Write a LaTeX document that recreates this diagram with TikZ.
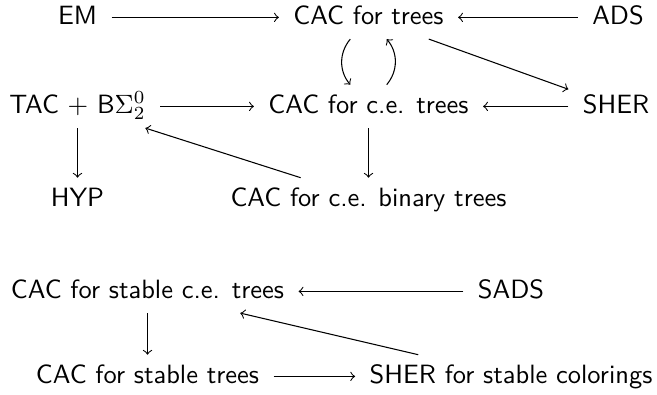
\documentclass[tikz,border=0pt]{standalone}
\usepackage{tikz}
\usetikzlibrary{arrows}
\begin{document}
\begin{tikzpicture}[x=0.378pt,y=-0.378pt]
				\tikzstyle{every node}=[font=\sffamily,anchor=base,inner xsep=5.3pt,inner ysep=2pt,text height=8.5pt,text depth=3.5pt]
				\tikzstyle{imp}=[->,thin]
				\useasboundingbox (0,0) rectangle (657,394);
				% upper diagram
				\node (em) at (77.5,24) {EM};
				\node (cact) at (368.5,24) {CAC for trees};
				\node (ads) at (618,24) {ADS};
				\node (tac) at (77.5,113) {TAC $+$ B$\Sigma^0_2$};
				\node (cacce) at (368.5,113) {CAC for c.e. trees};
				\node (sher) at (616,113) {SHER};
				\node (hyp) at (77.5,206) {HYP};
				\node (cacbin) at (368.5,206) {CAC for c.e. binary trees};
				\draw[imp] (em) -- (cact);
				\draw[imp] (ads) -- (cact);
				\draw[imp] (cact) to[bend right=40] (cacce);
				\draw[imp] (cacce) to[bend right=40] (cact);
				\draw[imp] (cact) -- (sher);
				\draw[imp] (tac) -- (cacce);
				\draw[imp] (sher) -- (cacce);
				\draw[imp] (tac) -- (hyp);
				\draw[imp] (cacce) -- (cacbin);
				\draw[imp] (cacbin) -- (tac);
				% stable versions
				\node (cacsce) at (147.5,298) {CAC for stable c.e. trees};
				\node (sads) at (511,298) {SADS};
				\node (cacst) at (147.5,383) {CAC for stable trees};
				\node (sherst) at (511,383) {SHER for stable colorings};
				\draw[imp] (sads) -- (cacsce);
				\draw[imp] (cacsce) -- (cacst);
				\draw[imp] (cacst) -- (sherst);
				\draw[imp] (sherst) -- (cacsce);
\end{tikzpicture}
\end{document}
